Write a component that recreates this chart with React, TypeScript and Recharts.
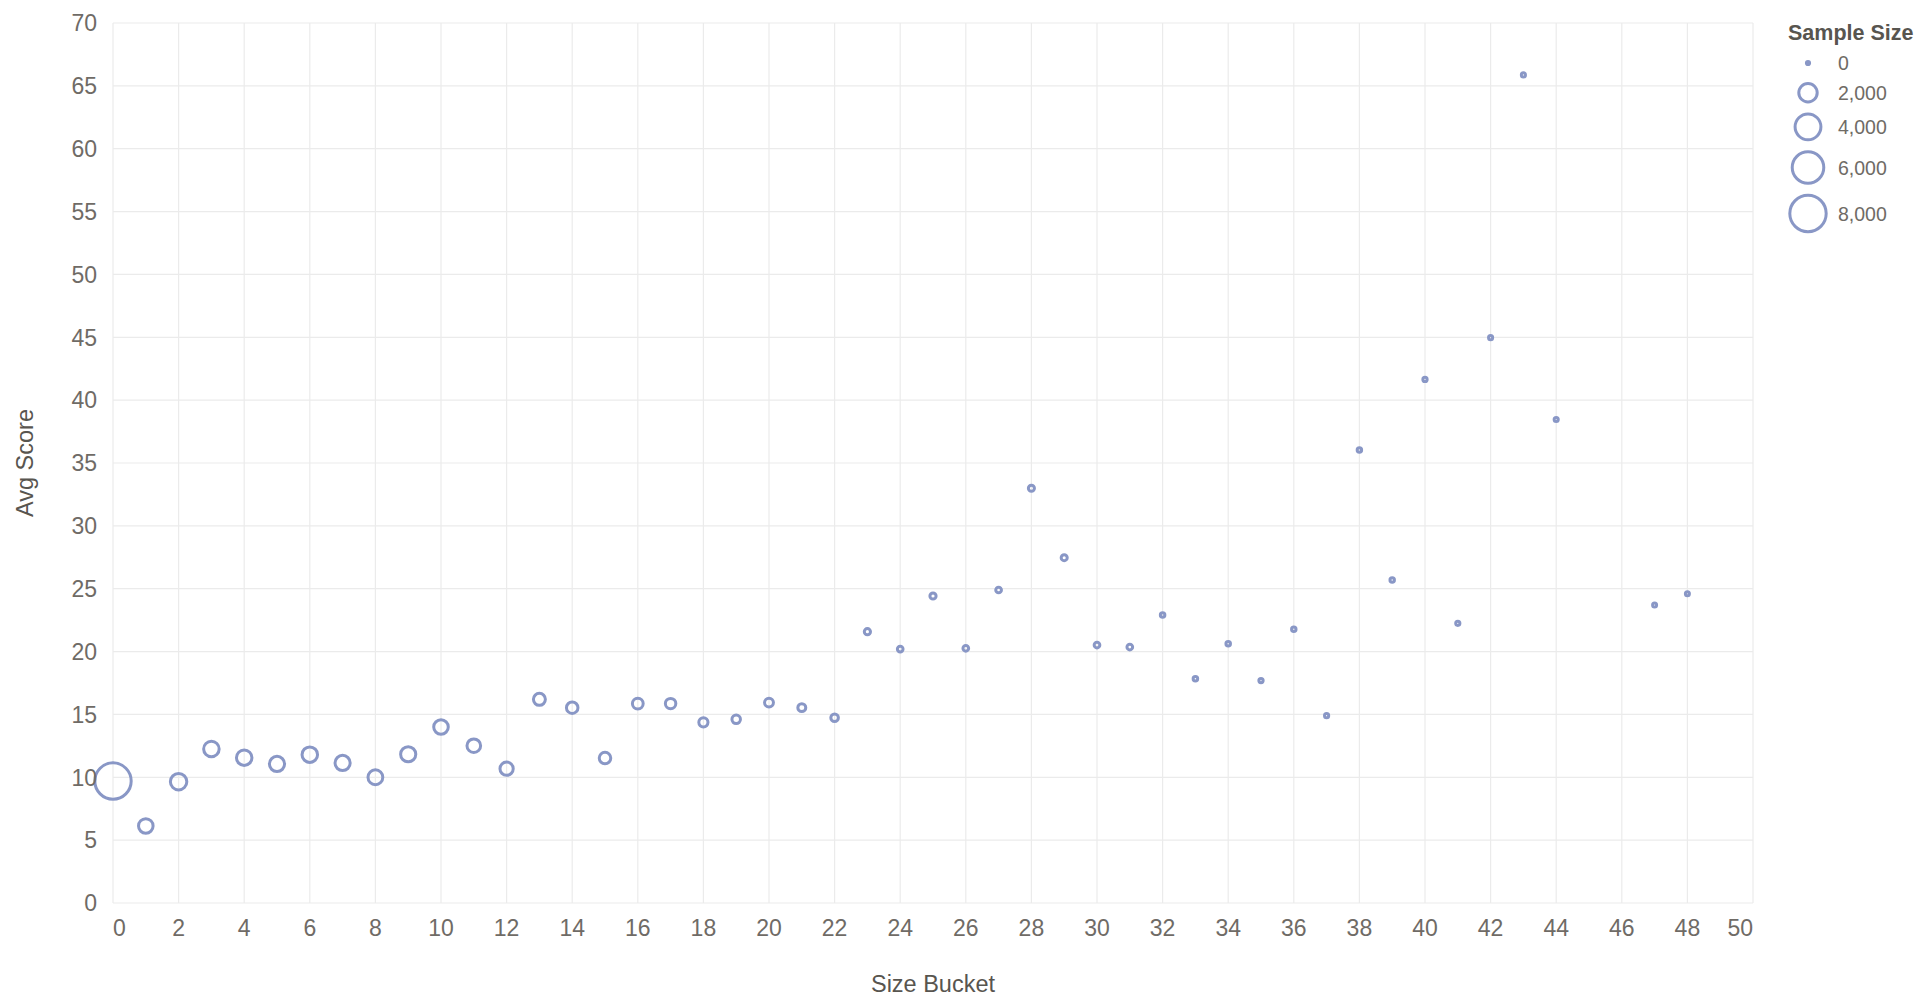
import React from "react";
import { CartesianGrid, Scatter, ScatterChart, XAxis, YAxis, ZAxis } from "recharts";

// size bucket (x), average score (y) and sample size (bubble area)
const SIZE_BUCKETS = [
  0, 1, 2, 3, 4, 5, 6, 7, 8, 9, 10, 11, 12, 13, 14, 15, 16, 17, 18, 19, 20, 21, 22, 23, 24,
  25, 26, 27, 28, 29, 30, 31, 32, 33, 34, 35, 36, 37, 38, 39, 40, 41, 42, 43, 44, 47, 48,
];
const AVG_SCORES = [
  9.7, 6.13, 9.65, 12.25, 11.56, 11.06, 11.8, 11.14, 10.0, 11.83, 14.0, 12.51, 10.68, 16.2,
  15.54, 11.53, 15.86, 15.86, 14.37, 14.61, 15.94, 15.54, 14.74, 21.58, 20.2, 24.42, 20.26,
  24.9, 32.99, 27.47, 20.52, 20.36, 22.91, 17.84, 20.63, 17.69, 21.77, 14.9, 36.04, 25.69,
  41.65, 22.25, 44.97, 65.87, 38.46, 23.7, 24.6,
];
const SAMPLE_SIZES = [
  8900, 1370, 1760, 1560, 1560, 1490, 1560, 1490, 1420, 1490, 1370, 1190, 1120, 900, 830, 830,
  720, 670, 500, 420, 470, 360, 320, 190, 150, 190, 150, 150, 180, 180, 150, 150, 70, 70, 70,
  55, 65, 50, 65, 65, 55, 50, 45, 45, 45, 40, 40,
];

const X_TICKS = [
  0, 2, 4, 6, 8, 10, 12, 14, 16, 18, 20, 22, 24, 26, 28, 30, 32, 34, 36, 38, 40, 42, 44, 46, 48,
  50,
];
const Y_TICKS = [0, 5, 10, 15, 20, 25, 30, 35, 40, 45, 50, 55, 60, 65, 70];
const LEGEND_SIZES = [0, 2000, 4000, 6000, 8000];

const SIZE_DOMAIN: [number, number] = [0, 8000];
const AREA_RANGE: [number, number] = [8, 1040];

const FONT = "'Liberation Sans', Arial, Helvetica, sans-serif";
const POINT = "#8997c6";
const STROKE_W = 3;
const GRID = "#ebebeb";
const LABEL = "#6f6b66";
const TITLE = "#58554f";

const data = SIZE_BUCKETS.map((x, i) => ({ x, y: AVG_SCORES[i], n: SAMPLE_SIZES[i] }));

function Ring(props: any) {
  const { cx, cy, width } = props;
  if (cx == null || cy == null) return null;
  return <circle cx={cx} cy={cy} r={width / 2} fill="none" stroke={POINT} strokeWidth={STROKE_W} />;
}

function XTick({ x, y, payload }: any) {
  const v = payload.value;
  const anchor = v === X_TICKS[0] ? "start" : v === X_TICKS[X_TICKS.length - 1] ? "end" : "middle";
  return (
    <text x={x} y={y} dy="0.71em" textAnchor={anchor} fill={LABEL} fontSize={23} fontFamily={FONT}>
      {v}
    </text>
  );
}

function YTick({ x, y, payload }: any) {
  return (
    <text x={x} y={y} dy="0.36em" textAnchor="end" fill={LABEL} fontSize={23} fontFamily={FONT}>
      {payload.value}
    </text>
  );
}

function XTitle({ viewBox }: any) {
  const cx = viewBox.x + viewBox.width / 2;
  return (
    <text x={cx} y={viewBox.y + 89} textAnchor="middle" fill={TITLE} fontSize={23.5} fontFamily={FONT}>
      Size Bucket
    </text>
  );
}

function YTitle({ viewBox }: any) {
  const cx = 25;
  const cy = viewBox.y + viewBox.height / 2;
  return (
    <text
      x={cx}
      y={cy}
      transform={`rotate(-90, ${cx}, ${cy})`}
      textAnchor="middle"
      dominantBaseline="central"
      fill={TITLE}
      fontSize={23.5}
      fontFamily={FONT}
    >
      Avg Score
    </text>
  );
}

// legend symbols follow the same linear area mapping as the ZAxis
function legendRadius(v: number) {
  const t = (v - SIZE_DOMAIN[0]) / (SIZE_DOMAIN[1] - SIZE_DOMAIN[0]);
  const area = AREA_RANGE[0] + t * (AREA_RANGE[1] - AREA_RANGE[0]);
  return Math.sqrt(area / Math.PI);
}

function SizeLegend() {
  const rows: { v: number; r: number; cy: number }[] = [];
  let cy = 63;
  let prevH = 0;
  LEGEND_SIZES.forEach((v, i) => {
    const r = legendRadius(v);
    const h = Math.max(2 * r + 3, 20);
    if (i > 0) cy += (prevH + h) / 2 + 9;
    rows.push({ v, r, cy });
    prevH = h;
  });
  return (
    <svg width={170} height={250} style={{ position: "absolute", left: 1760, top: 0 }}>
      <text x={28} y={40} fill={TITLE} fontSize={21.5} fontWeight="bold" fontFamily={FONT}>
        Sample Size
      </text>
      {rows.map((row) => (
        <g key={row.v}>
          <circle cx={48} cy={row.cy} r={row.r} fill="none" stroke={POINT} strokeWidth={STROKE_W} />
          <text x={78} y={row.cy} dy="0.36em" fill={LABEL} fontSize={19.5} fontFamily={FONT}>
            {row.v.toLocaleString("en-US")}
          </text>
        </g>
      ))}
    </svg>
  );
}

export default function App() {
  return (
    <div style={{ position: "absolute", left: 0, top: 0, width: 1920, height: 1000, background: "#fff" }}>
      <ScatterChart width={1920} height={1000} margin={{ top: 23, right: 167, bottom: 0, left: 0 }}>
        <CartesianGrid stroke={GRID} strokeWidth={1.2} />
        <XAxis
          type="number"
          dataKey="x"
          domain={[0, 50]}
          ticks={X_TICKS}
          interval={0}
          height={97}
          axisLine={false}
          tickLine={false}
          tickSize={0}
          tickMargin={17}
          tick={<XTick />}
          label={<XTitle />}
        />
        <YAxis
          type="number"
          dataKey="y"
          domain={[0, 70]}
          ticks={Y_TICKS}
          interval={0}
          width={113}
          axisLine={false}
          tickLine={false}
          tickSize={0}
          tickMargin={16}
          tick={<YTick />}
          label={<YTitle />}
        />
        <ZAxis type="number" dataKey="n" domain={SIZE_DOMAIN} range={AREA_RANGE} />
        <Scatter data={data} shape={<Ring />} isAnimationActive={false} />
      </ScatterChart>
      <SizeLegend />
    </div>
  );
}
